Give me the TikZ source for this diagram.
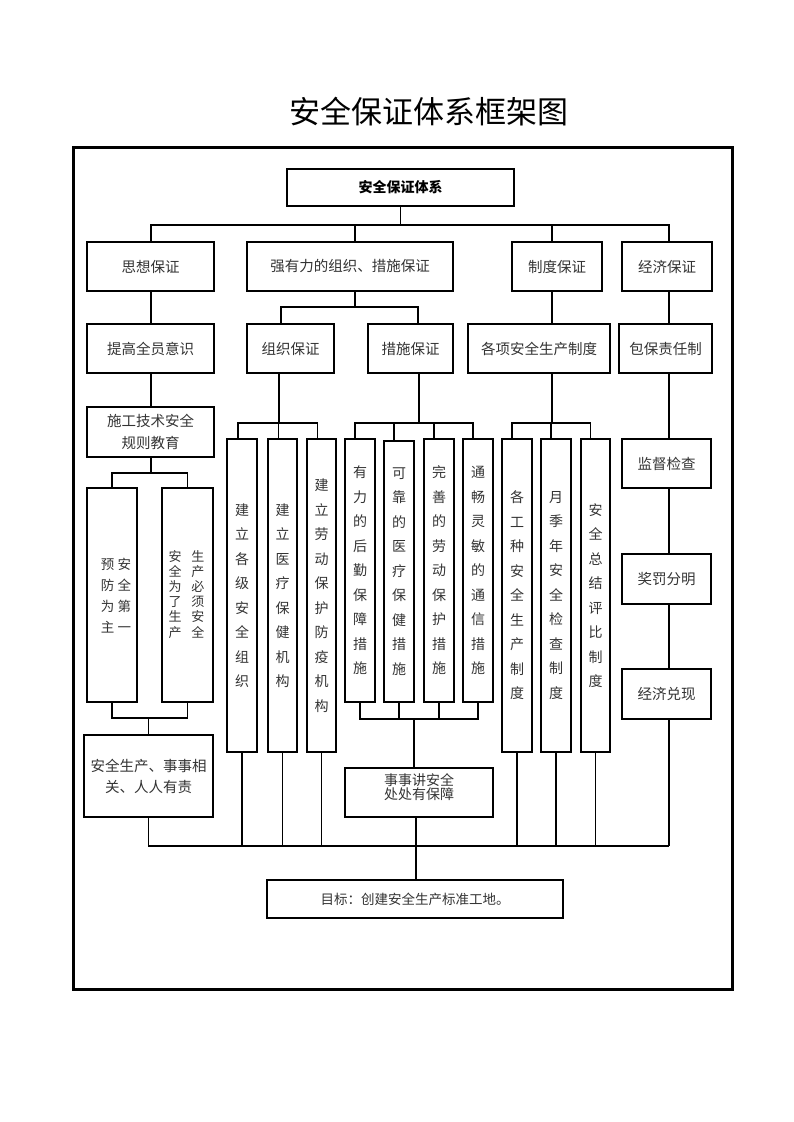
\documentclass[tikz,border=0pt]{standalone}
\usepackage{fontspec}
\setmainfont{Noto Sans CJK SC}
\begin{document}
\begin{tikzpicture}[x=1pt,y=-1pt,line width=1.1pt,
  bx/.style={draw,rectangle,inner sep=0pt,align=center,font=\fontsize{14.5}{22}\selectfont,text=black!80},
  vbx/.style={draw,rectangle,inner sep=0pt,align=center,font=\fontsize{14}{24.5}\selectfont,text=black!80},
  lbl/.style={inner sep=0pt,align=center,text=black!80}]
\useasboundingbox (0,0) rectangle (793,1122);
% title and frame
\node[font=\fontsize{31}{36}\selectfont] (title) at (429,112) {安全保证体系框架图};
\draw[line width=3pt] (73,147) rectangle (732,989);
% helper coordinates
\coordinate (X151) at (151,0);
\coordinate (X355) at (355,0);
\coordinate (X552) at (552,0);
\coordinate (X669) at (669,0);
\coordinate (X281) at (281,0);
\coordinate (X279) at (279,0);
\coordinate (X418) at (418,0);
\coordinate (X419) at (419,0);
\coordinate (X414) at (414,0);
\coordinate (X416) at (416,0);
\coordinate (Y225) at (0,225);
\coordinate (Y307) at (0,307);
\coordinate (Y423) at (0,423);
\coordinate (Y473) at (0,473);
\coordinate (Y718) at (0,718);
\coordinate (Y719) at (0,719);
\coordinate (Y846) at (0,846);
% nodes
\node[bx,font=\fontsize{14}{18}\selectfont\bfseries,text=black,minimum width=227pt,minimum height=37pt] (top) at (400.5,187.5) {安全保证体系};
\node[bx,minimum width=127pt,minimum height=49pt] (sx) at (150.5,266.5) {思想保证};
\node[bx,minimum width=206pt,minimum height=49pt] (qy) at (350,266.5) {强有力的组织、措施保证};
\node[bx,minimum width=90pt,minimum height=49pt] (zd) at (557,266.5) {制度保证};
\node[bx,minimum width=90pt,minimum height=49pt] (jj) at (667,266.5) {经济保证};
\node[bx,minimum width=127pt,minimum height=49pt] (tg) at (150.5,348.5) {提高全员意识};
\node[bx,minimum width=87pt,minimum height=49pt] (zz) at (290.5,348.5) {组织保证};
\node[bx,minimum width=85pt,minimum height=49pt] (cs) at (410.5,348.5) {措施保证};
\node[bx,minimum width=142pt,minimum height=49pt] (gx) at (539,348.5) {各项安全生产制度};
\node[bx,minimum width=93pt,minimum height=49pt] (bb) at (665.5,348.5) {包保责任制};
\node[bx,minimum width=127pt,minimum height=50pt] (sg) at (150.5,432) {施工技术安全\\规则教育};
\node[bx,minimum width=50pt,minimum height=214pt] (yf) at (112,595) {};
\node[bx,minimum width=51pt,minimum height=214pt] (sc) at (187.5,595) {};
\node[lbl,font=\fontsize{13.5}{21}\selectfont] (yft) at (116,597)
  {\begin{tabular}{@{}c@{\hspace{3.5pt}}c@{}}预&安\\防&全\\为&第\\主&一\end{tabular}};
\node[lbl,font=\fontsize{13}{13.8}\selectfont] (sct) at (186.5,596)
  {\begin{tabular}{@{}c@{\hspace{10pt}}c@{}}安&生\\全&产\\为&必\\了&须\\生&安\\产&全\end{tabular}};
\node[bx,minimum width=129pt,minimum height=82pt,font=\fontsize{14.5}{21}\selectfont] (aq) at (148.5,776) {安全生产、事事相\\关、人人有责};
% group 1
\node[vbx,minimum width=30pt,minimum height=313pt] (g1a) at (242,595.5) {建\\立\\各\\级\\安\\全\\组\\织};
\node[vbx,minimum width=29pt,minimum height=313pt] (g1b) at (282.5,595.5) {建\\立\\医\\疗\\保\\健\\机\\构};
\node[vbx,minimum width=29pt,minimum height=313pt] (g1c) at (321.5,595.5) {建\\立\\劳\\动\\保\\护\\防\\疫\\机\\构};
% group 2
\node[vbx,minimum width=30pt,minimum height=263pt] (g2a) at (360,570.5) {有\\力\\的\\后\\勤\\保\\障\\措\\施};
\node[vbx,minimum width=30pt,minimum height=261pt] (g2b) at (399,571.5) {可\\靠\\的\\医\\疗\\保\\健\\措\\施};
\node[vbx,minimum width=30pt,minimum height=263pt] (g2c) at (439,570.5) {完\\善\\的\\劳\\动\\保\\护\\措\\施};
\node[vbx,minimum width=30pt,minimum height=263pt] (g2d) at (478,570.5) {通\\畅\\灵\\敏\\的\\通\\信\\措\\施};
% group 3
\node[vbx,minimum width=30pt,minimum height=313pt] (g3a) at (517,595.5) {各\\工\\种\\安\\全\\生\\产\\制\\度};
\node[vbx,minimum width=30pt,minimum height=313pt] (g3b) at (556,595.5) {月\\季\\年\\安\\全\\检\\查\\制\\度};
\node[vbx,minimum width=29pt,minimum height=313pt] (g3c) at (595.5,595.5) {安\\全\\总\\结\\评\\比\\制\\度};
% others
\node[bx,minimum width=148pt,minimum height=49pt] (ss) at (419,792.5) {};
\node[lbl,font=\fontsize{14}{13.5}\selectfont] (sst) at (419,787) {事事讲安全\\处处有保障};
\node[bx,minimum width=89pt,minimum height=49pt] (jd) at (666.5,463.5) {监督检查};
\node[bx,minimum width=89pt,minimum height=50pt] (jf) at (666.5,579) {奖罚分明};
\node[bx,minimum width=89pt,minimum height=50pt] (jx) at (666.5,694) {经济兑现};
\node[bx,minimum width=296pt,minimum height=38pt,font=\fontsize{13.5}{18}\selectfont] (mb) at (415,899) {目标：创建安全生产标准工地。};
% connectors
\draw (top.south) -- (top.south |- Y225);
\draw (sx.north -| X151) -- (X151 |- Y225) -- (X669 |- Y225) -- (jj.north -| X669);
\draw (qy.north -| X355) -- (X355 |- Y225);
\draw (zd.north -| X552) -- (X552 |- Y225);
\draw (sx.south -| X151) -- (tg.north -| X151);
\draw (qy.south -| X355) -- (X355 |- Y307);
\draw (zz.north -| X281) -- (X281 |- Y307) -- (X418 |- Y307) -- (cs.north -| X418);
\draw (zd.south -| X552) -- (gx.north -| X552);
\draw (jj.south -| X669) -- (bb.north -| X669);
\draw (tg.south -| X151) -- (sg.north -| X151);
\draw (sg.south -| X151) -- (X151 |- Y473);
\draw (yf.north) -- (yf.north |- Y473) -- (sc.north |- Y473) -- (sc.north);
\draw (yf.south) -- (yf.south |- Y718) -- (sc.south |- Y718) -- (sc.south);
\draw (aq.north) -- (aq.north |- Y718);
% group 1 top
\draw (zz.south -| X279) -- (X279 |- Y423);
\draw ([xshift=-4pt]g1a.north) -- ([xshift=-4pt]g1a.north |- Y423) -- ([xshift=-4pt]g1c.north |- Y423) -- ([xshift=-4pt]g1c.north);
\draw ([xshift=-4pt]g1b.north) -- ([xshift=-4pt]g1b.north |- Y423);
% group 2 top
\draw (cs.south -| X419) -- (X419 |- Y423);
\draw ([xshift=-5pt]g2a.north) -- ([xshift=-5pt]g2a.north |- Y423) -- ([xshift=-5pt]g2d.north |- Y423) -- ([xshift=-5pt]g2d.north);
\draw ([xshift=-5pt]g2b.north) -- ([xshift=-5pt]g2b.north |- Y423);
\draw ([xshift=-5pt]g2c.north) -- ([xshift=-5pt]g2c.north |- Y423);
% group 3 top
\draw (gx.south -| X552) -- (X552 |- Y423);
\draw ([xshift=-5pt]g3a.north) -- ([xshift=-5pt]g3a.north |- Y423) -- ([xshift=-5pt]g3c.north |- Y423) -- ([xshift=-5pt]g3c.north);
\draw ([xshift=-5pt]g3b.north) -- ([xshift=-5pt]g3b.north |- Y423);
% group 2 bottom
\draw (g2a.south) -- (g2a.south |- Y719) -- (g2d.south |- Y719) -- (g2d.south);
\draw (g2b.south) -- (g2b.south |- Y719);
\draw (g2c.south) -- (g2c.south |- Y719);
\draw (ss.north -| X414) -- (X414 |- Y719);
\draw (ss.south -| X416) -- (mb.north -| X416);
% bottom bus
\draw (aq.south) -- (aq.south |- Y846) -- (X669 |- Y846);
\draw (g1a.south) -- (g1a.south |- Y846);
\draw (g1b.south) -- (g1b.south |- Y846);
\draw (g1c.south) -- (g1c.south |- Y846);
\draw (g3a.south) -- (g3a.south |- Y846);
\draw (g3b.south) -- (g3b.south |- Y846);
\draw (g3c.south) -- (g3c.south |- Y846);
% right column
\draw (bb.south -| X669) -- (jd.north -| X669);
\draw (jd.south -| X669) -- (jf.north -| X669);
\draw (jf.south -| X669) -- (jx.north -| X669);
\draw (jx.south -| X669) -- (X669 |- Y846);
\end{tikzpicture}
\end{document}
